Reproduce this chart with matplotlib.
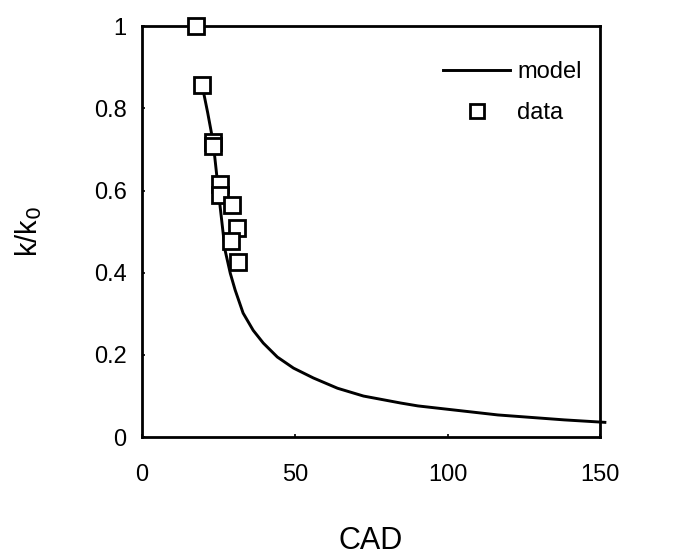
import matplotlib.pyplot as plt

# data
cad_data = [17.7, 19.7, 23.3, 23.3, 25.6, 25.6, 29.5, 31.2, 29.2, 31.5]
k_data = [1.0, 0.856, 0.718, 0.708, 0.617, 0.59, 0.566, 0.51, 0.478, 0.427]

cad_model = [19.7, 21.5, 23.3, 25.6, 27.2, 28.9, 30.5, 33.1, 36.4, 39.7, 44.3, 49.6,
             56.1, 64.0, 72.5, 84.7, 90.3, 116.5, 138.2, 151.5]
k_model = [0.856, 0.79, 0.718, 0.56, 0.455, 0.399, 0.358, 0.302, 0.260, 0.229, 0.195, 0.168,
           0.144, 0.119, 0.100, 0.083, 0.076, 0.054, 0.042, 0.036]

plt.rcParams['font.family'] = ['Liberation Sans', 'DejaVu Sans']

fig = plt.figure(figsize=(6.76, 5.59), dpi=100)
ax = fig.add_axes([0.21, 0.218, 0.678, 0.735])

ax.plot(cad_model, k_model, color='black', lw=2.1, label='model', clip_on=False)
ax.plot(cad_data, k_data, ls='none', marker='s', ms=11, mfc='white', mec='black',
        mew=2, label='data', clip_on=False, zorder=5)

ax.set_xlim(0, 150)
ax.set_ylim(0, 1)
ax.set_xticks([0, 50, 100, 150])
ax.set_yticks([0, 0.2, 0.4, 0.6, 0.8, 1])
ax.set_yticklabels(['0', '0.2', '0.4', '0.6', '0.8', '1'])
ax.tick_params(direction='in', length=2, width=1.2, labelsize=17)
ax.tick_params(axis='x', pad=19)
ax.tick_params(axis='y', pad=11)
for s in ax.spines.values():
    s.set_linewidth(2)

ax.set_xlabel('CAD', fontsize=22, labelpad=29)
ax.set_ylabel('k/k$_0$', fontsize=21, labelpad=36)

ax.legend(loc='upper left', bbox_to_anchor=(0.657, 0.915), frameon=False, fontsize=17,
          borderpad=0, borderaxespad=0, handlelength=2.85, handletextpad=0.3,
          labelspacing=0.8, markerscale=0.95)

fig.savefig('out.png', dpi=100)
